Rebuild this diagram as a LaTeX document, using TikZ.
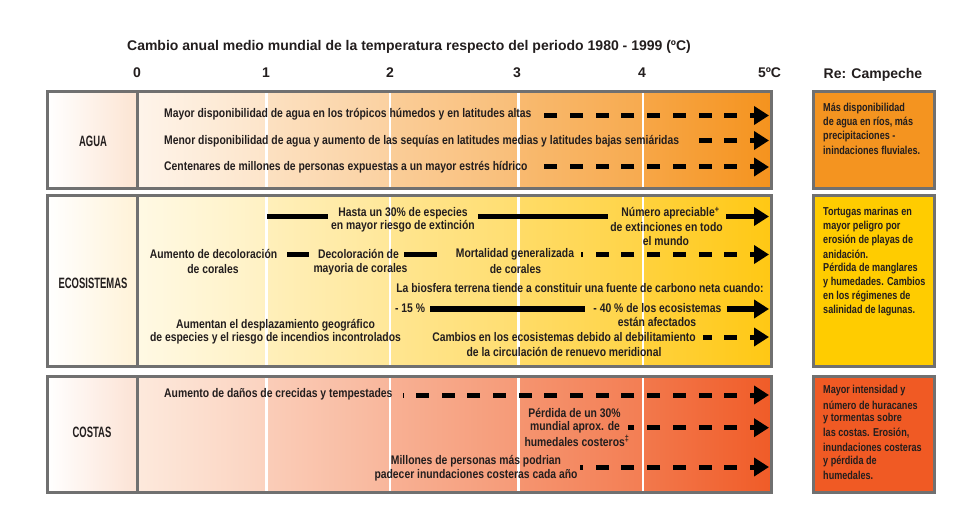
\documentclass[tikz,border=0pt]{standalone}
\usepackage{fontspec}
\setmainfont{Liberation Sans}
\newfontfamily\bodyf[FakeStretch=0.83]{Liberation Sans Bold}
\newfontfamily\boxf[FakeStretch=0.79]{Liberation Sans Bold}
\newfontfamily\labf[FakeStretch=0.63]{Liberation Sans Bold}
\usetikzlibrary{arrows.meta}
\definecolor{txt}{RGB}{35,30,30}
\definecolor{framegray}{RGB}{112,112,112}
\definecolor{aguaL}{RGB}{254,244,234}
\definecolor{aguaR}{RGB}{245,147,30}
\definecolor{aguaBox}{RGB}{244,148,32}
\definecolor{aguaLab}{RGB}{252,228,210}
\definecolor{ecoL}{RGB}{255,249,228}
\definecolor{ecoR}{RGB}{255,200,20}
\definecolor{ecoBox}{RGB}{255,204,0}
\definecolor{ecoLab}{RGB}{255,242,215}
\definecolor{costL}{RGB}{253,233,220}
\definecolor{costR}{RGB}{240,92,40}
\definecolor{costBox}{RGB}{240,90,36}
\definecolor{costLab}{RGB}{252,226,212}
\newcommand\shadepanel[4]{%
  \foreach \xa/\xb/\k in {138/266.7/0,266.7/390/1,390/518.5/2,518.5/643/3,643/770/4}{%
    \pgfmathtruncatemacro\pl{20*\k}%
    \pgfmathtruncatemacro\pr{\k==4 ? 100 : 20*\k+16}%
    \shade[left color=#4!\pl!#3, right color=#4!\pr!#3] (\xa,#1) rectangle (\xb,#2);
  }}
\begin{document}
\begin{tikzpicture}[x=1pt,y=-1pt,
  every node/.style={inner sep=0pt, text=txt},
  bodytxt/.style={font=\bodyf\fontsize{12.5}{14}\selectfont},
  boxtxt/.style={font=\boxf\fontsize{11.5}{13}\selectfont, anchor=west},
  labtxt/.style={font=\labf\fontsize{15}{16}\selectfont},
  headtxt/.style={font=\bfseries\fontsize{14}{16}\selectfont},
  frame/.style={draw=framegray, line width=3pt},
  sepline/.style={draw=white, line width=2.5pt},
  dasharr/.style={draw=black, line width=5pt, dash pattern=on 13pt off 12.7pt, dash phase=8pt, arrows={Triangle[length=15pt,width=18pt]-}},
  solidarr/.style={draw=black, line width=5.5pt, arrows={Triangle[length=15pt,width=18pt]-}},
  solidbar/.style={draw=black, line width=5.5pt},
]
\useasboundingbox[fill=white] (0,0) rectangle (954,508);

% ---------- panels ----------
\shade[left color=white,right color=aguaLab] (47.5,92) rectangle (137.5,189);
\shadepanel{92}{189}{aguaL}{aguaR}
\shade[left color=white,right color=ecoLab] (47.5,195.5) rectangle (137.5,366.5);
\shadepanel{195.5}{366.5}{ecoL}{ecoR}
\shade[left color=white,right color=costLab] (47.5,376) rectangle (137.5,492);
\shadepanel{376}{492}{costL}{costR}
\foreach \x in {266.7,390,518.5,643}{
  \draw[sepline] (\x,92) -- (\x,189);
  \draw[sepline] (\x,195.5) -- (\x,366.5);
  \draw[sepline] (\x,376) -- (\x,492);
}
\draw[frame] (47.5,92) rectangle (771.5,189);
\draw[frame] (137.5,92) -- (137.5,189);
\draw[frame] (47.5,195.5) rectangle (771.5,366.5);
\draw[frame] (137.5,195.5) -- (137.5,366.5);
\draw[frame] (47.5,376) rectangle (771.5,492);
\draw[frame] (137.5,376) -- (137.5,492);
\draw[frame, fill=aguaBox] (813,92) rectangle (934,189);
\draw[frame, fill=ecoBox] (813,195.5) rectangle (934,366.5);
\draw[frame, fill=costBox] (813,376) rectangle (934,492);

% ---------- header ----------
\node[headtxt, anchor=base] (title) at (409,51) {Cambio anual medio mundial de la temperatura respecto del periodo 1980 - 1999 (ºC)};
\node[headtxt] (t0) at (137,73) {0};
\node[headtxt] (t1) at (266,73) {1};
\node[headtxt] (t2) at (390,73) {2};
\node[headtxt] (t3) at (517,73) {3};
\node[headtxt] (t4) at (642,73) {4};
\node[headtxt] (t5) at (769.5,73) {5ºC};
\node[headtxt] (re) at (873,74.5) {Re: Campeche};

% ---------- labels ----------
\node[labtxt] (lagua) at (93,141.3) {AGUA};
\node[labtxt] (leco) at (93,283.7) {ECOSISTEMAS};
\node[labtxt] (lcost) at (92,432.3) {COSTAS};

% ---------- AGUA ----------
\node[bodytxt, anchor=west] (a1) at (164,114) {Mayor disponibilidad de agua en los trópicos húmedos y en latitudes altas};
\node[bodytxt, anchor=west] (a2) at (164,141) {Menor disponibilidad de agua y aumento de las sequías en latitudes medias y latitudes bajas semiáridas};
\node[bodytxt, anchor=west] (a3) at (164,167.5) {Centenares de millones de personas expuestas a un mayor estrés hídrico};
\coordinate (ea1) at (769,115.5);
\coordinate (ea2) at (769,140.5);
\coordinate (ea3) at (769,167);
\draw[dasharr, shorten >=10pt] (ea1) -- (a1.east |- ea1);
\draw[dasharr, shorten >=7pt] (ea2) -- (a2.east |- ea2);
\draw[dasharr, shorten >=8pt] (ea3) -- (a3.east |- ea3);

% ---------- ECOSISTEMAS ----------
\node[bodytxt] (h1a) at (403,213) {Hasta un 30\% de especies};
\node[bodytxt] (h1b) at (403,226) {en mayor riesgo de extinción};
\node[bodytxt] (h2a) at (670.5,213) {Número apreciable\textsuperscript{+}};
\node[bodytxt] (h2b) at (666.5,227) {de extinciones en todo};
\node[bodytxt] (h2c) at (666,241) {el mundo};
\coordinate (hb0) at (267,216.5);
\coordinate (eh) at (769,216.5);
\draw[solidbar, shorten >=10pt] (hb0) -- (h1a.west |- hb0);
\draw[solidbar, shorten <=10pt, shorten >=13pt] (h1a.east |- hb0) -- (h2a.west |- hb0);
\draw[solidarr, shorten >=6pt] (eh) -- (h2a.east |- eh);

\node[bodytxt] (c1a) at (213.5,254) {Aumento de decoloración};
\node[bodytxt] (c1b) at (213,269) {de corales};
\node[bodytxt] (c2a) at (358.5,254) {Decoloración de};
\node[bodytxt] (c2b) at (360.5,269) {mayoria de corales};
\node[bodytxt] (c3a) at (515,254) {Mortalidad generalizada};
\node[bodytxt] (c3b) at (515.5,269) {de corales};
\coordinate (ec) at (769,254.5);
\draw[solidbar, shorten <=10pt, shorten >=9pt] (c1a.east |- ec) -- (c2a.west |- ec);
\draw[solidbar, shorten <=5pt, shorten >=19pt] (c2a.east |- ec) -- (c3a.west |- ec);
\draw[dasharr, shorten >=7pt] (ec) -- (c3a.east |- ec);

\node[bodytxt] (bio) at (580,288) {La biosfera terrena tiende a constituir una fuente de carbono neta cuando:};
\node[bodytxt] (p15) at (410,308) {- 15 \%};
\node[bodytxt] (p40a) at (657.5,308) {- 40 \% de los ecosistemas};
\node[bodytxt] (p40b) at (657,322) {están afectados};
\coordinate (ep) at (769,309);
\draw[solidbar, shorten <=5pt, shorten >=8pt] (p15.east |- ep) -- (p40a.west |- ep);
\draw[solidarr, shorten >=5pt] (ep) -- (p40a.east |- ep);

\node[bodytxt] (d1a) at (275.5,325.7) {Aumentan el desplazamiento geográfico};
\node[bodytxt] (d1b) at (275.5,338) {de especies y el riesgo de incendios incontrolados};
\node[bodytxt] (e1a) at (564,337.5) {Cambios en los ecosistemas debido al debilitamiento};
\node[bodytxt] (e1b) at (564,352) {de la circulación de renuevo meridional};
\coordinate (ee) at (769,337);
\draw[dasharr, shorten >=7pt] (ee) -- (e1a.east |- ee);

% ---------- COSTAS ----------
\node[bodytxt, anchor=west] (k1) at (164,394) {Aumento de daños de crecidas y tempestades};
\coordinate (ek1) at (769,395);
\draw[dasharr, shorten >=10pt] (ek1) -- (k1.east |- ek1);
\node[bodytxt] (k2a) at (574.5,413.3) {Pérdida de un 30\%};
\node[bodytxt] (k2b) at (575,427) {mundial aprox. de};
\node[bodytxt] (k2c) at (577,441) {humedales costeros\textsuperscript{‡}};
\coordinate (ek2) at (769,427.7);
\draw[dasharr, shorten >=8pt] (ek2) -- (k2b.east |- ek2);
\node[bodytxt] (k3a) at (476,461.7) {Millones de personas más podrian};
\node[bodytxt] (k3b) at (476,475) {padecer inundaciones costeras cada año};
\coordinate (ek3) at (769,467);
\draw[dasharr, shorten >=2pt] (ek3) -- (k3b.east |- ek3);

% ---------- Re: Campeche boxes ----------
\foreach \t [count=\i from 0] in {Más disponibilidad, {de agua en ríos, más}, precipitaciones -, inindaciones fluviales.}
  \node[boxtxt] (ra\i) at (823,108.3+14*\i) {\t};
\foreach \t [count=\i from 0] in {Tortugas marinas en, mayor peligro por, erosión de playas de, anidación., Pérdida de manglares, y humedades. Cambios, en los régimenes de, salinidad de lagunas.}
  \node[boxtxt] (rb\i) at (823,212.3+14.07*\i) {\t};
\foreach \t [count=\i from 0] in {Mayor intensidad y, número de huracanes, y tormentas sobre, {las costas. Erosión,}, inundaciones costeras, y pérdida de, humedales.}
  \node[boxtxt] (rc\i) at (823,391+14*\i) {\t};
\end{tikzpicture}
\end{document}
